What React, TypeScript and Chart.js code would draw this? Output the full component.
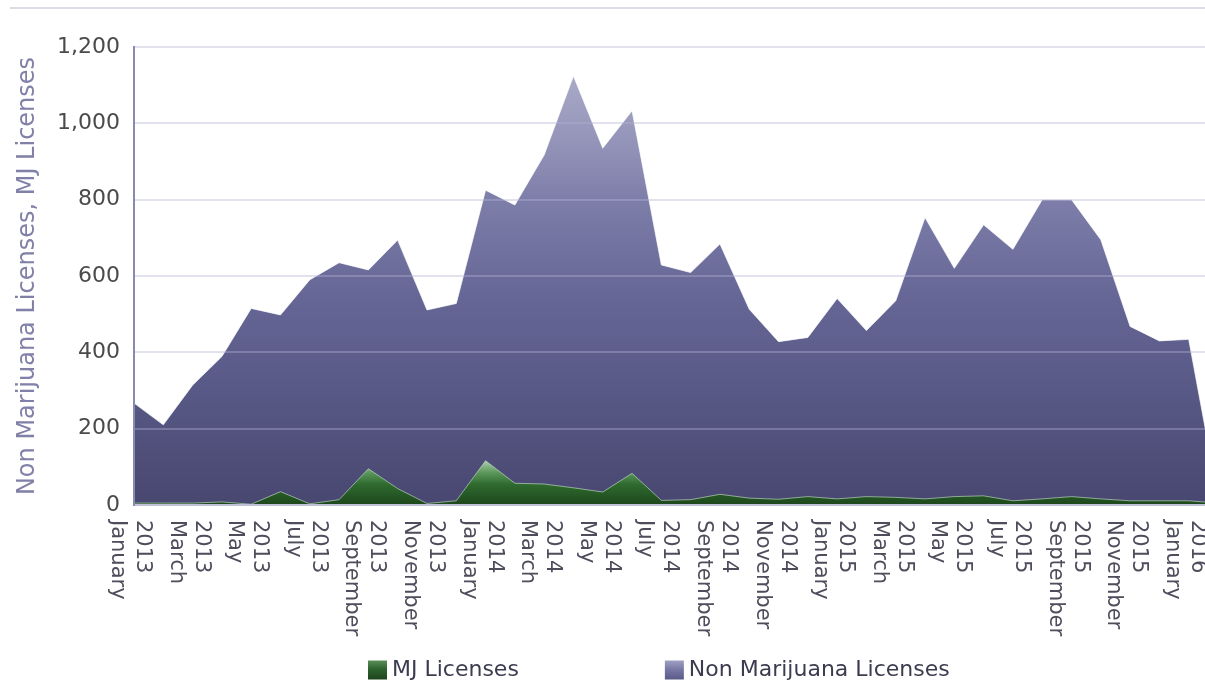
import React, { useEffect, useRef } from "react";
import { Chart, registerables } from "chart.js";

Chart.register(...registerables);

const categories = [
  "January 2013", "February 2013", "March 2013", "April 2013", "May 2013", "June 2013",
  "July 2013", "August 2013", "September 2013", "October 2013", "November 2013", "December 2013",
  "January 2014", "February 2014", "March 2014", "April 2014", "May 2014", "June 2014",
  "July 2014", "August 2014", "September 2014", "October 2014", "November 2014", "December 2014",
  "January 2015", "February 2015", "March 2015", "April 2015", "May 2015", "June 2015",
  "July 2015", "August 2015", "September 2015", "October 2015", "November 2015", "December 2015",
  "January 2016", "February 2016",
];

const mjLicenses = [
  5, 5, 5, 8, 2, 35, 3, 14, 95, 43, 4, 11,
  116, 57, 55, 45, 34, 83, 12, 14, 28, 18, 15, 22,
  16, 22, 20, 16, 22, 24, 11, 16, 22, 16, 11, 11,
  11, 5,
];

const nonMjLicenses = [
  267, 210, 314, 389, 515, 498, 590, 635, 616, 694, 511, 528,
  825, 786, 917, 1124, 935, 1033, 629, 609, 684, 513, 428, 439,
  541, 457, 535, 753, 620, 734, 670, 800, 800, 695, 468, 430,
  434, 20,
];

const yMin = 0;
const yMax = 1200;
const yStep = 200;
const labelEvery = 2;

const seriesNames = ["MJ Licenses", "Non Marijuana Licenses"];
const yTitle = "Non Marijuana Licenses, MJ Licenses";

const FONT = "'DejaVu Sans'";

function purpleGradient(ctx: CanvasRenderingContext2D, top: number, bottom: number) {
  const g = ctx.createLinearGradient(0, top, 0, bottom);
  g.addColorStop(0, "#b4b4d0");
  g.addColorStop(0.07, "#a8a8c6");
  g.addColorStop(0.22, "#9292b8");
  g.addColorStop(0.33, "#7e7eaa");
  g.addColorStop(0.55, "#666696");
  g.addColorStop(0.73, "#5a5a88");
  g.addColorStop(1, "#474770");
  return g;
}

function greenGradient(ctx: CanvasRenderingContext2D, top: number, bottom: number) {
  const g = ctx.createLinearGradient(0, top, 0, bottom);
  g.addColorStop(0, "#b4d6b4");
  g.addColorStop(0.3, "#5a965a");
  g.addColorStop(0.55, "#2f6a2f");
  g.addColorStop(1, "#1c461c");
  return g;
}

function legendGradient(ctx: CanvasRenderingContext2D, i: number, top: number, bottom: number) {
  const g = ctx.createLinearGradient(0, top, 0, bottom);
  if (i === 0) {
    g.addColorStop(0, "#5a8f5a");
    g.addColorStop(0.45, "#2e622e");
    g.addColorStop(1, "#1c461c");
  } else {
    g.addColorStop(0, "#a0a0c4");
    g.addColorStop(0.5, "#7676a4");
    g.addColorStop(1, "#5a5a88");
  }
  return g;
}

const xLabelPlugin = {
  id: "rotatedXLabels",
  afterDraw(chart: any) {
    const xs = chart.scales.x;
    const ctx: CanvasRenderingContext2D = chart.ctx;
    const labels: string[] = chart.data.labels;
    ctx.save();
    ctx.font = `21px ${FONT}`;
    ctx.fillStyle = "#4d4d5c";
    ctx.textBaseline = "middle";
    ctx.textAlign = "left";
    labels.forEach((lab, i) => {
      if (i % labelEvery !== 0) return;
      const parts = lab.split(" ");
      const x = xs.getPixelForValue(i) - 4;
      ctx.save();
      ctx.translate(x, xs.top + 15);
      ctx.rotate(Math.PI / 2);
      ctx.fillText(parts[0], 0, 12.5);
      ctx.fillText(parts[1], 0, -12.5);
      ctx.restore();
    });
    ctx.restore();
  },
};

const legendPlugin = {
  id: "customLegend",
  afterDraw(chart: any) {
    const ctx: CanvasRenderingContext2D = chart.ctx;
    const datasets = chart.data.datasets;
    ctx.save();
    ctx.font = `22px ${FONT}`;
    ctx.textBaseline = "middle";
    ctx.textAlign = "left";
    let x = 368;
    const yc = 670;
    const box = 19;
    datasets.forEach((ds: any, i: number) => {
      ctx.fillStyle = legendGradient(ctx, i, yc - box / 2, yc + box / 2);
      ctx.fillRect(x, yc - box / 2, box, box);
      ctx.fillStyle = "#3c3c50";
      const tx = x + box + 5;
      ctx.fillText(ds.label, tx, yc);
      const w = ctx.measureText(ds.label).width;
      x = tx + w + 146;
    });
    ctx.restore();
  },
};

export default function App() {
  const ref = useRef<HTMLCanvasElement>(null);

  useEffect(() => {
    const canvas = ref.current;
    if (!canvas) return;
    const chart = new Chart(canvas, {
      type: "line",
      data: {
        labels: categories,
        datasets: [
          {
            label: seriesNames[0],
            data: mjLicenses,
            fill: "origin",
            backgroundColor: (c: any) => {
              const ch = c.chart;
              const area = ch.chartArea;
              if (!area) return "#2f6a2f";
              const top = ch.scales.y.getPixelForValue(120);
              return greenGradient(ch.ctx, top, area.bottom);
            },
            borderColor: "rgba(205,232,205,0.6)",
            borderWidth: 1,
            pointRadius: 0,
            tension: 0,
          },
          {
            label: seriesNames[1],
            data: nonMjLicenses,
            fill: "origin",
            backgroundColor: (c: any) => {
              const ch = c.chart;
              const area = ch.chartArea;
              if (!area) return "#5a5a88";
              return purpleGradient(ch.ctx, area.top, area.bottom);
            },
            borderColor: "rgba(255,255,255,0.7)",
            borderWidth: 1,
            pointRadius: 0,
            tension: 0,
          },
        ],
      },
      options: {
        responsive: false,
        animation: false,
        devicePixelRatio: 1,
        layout: { padding: { left: 9, top: 47, right: 2, bottom: 0 } },
        plugins: {
          legend: { display: false },
          tooltip: { enabled: false },
        },
        scales: {
          x: {
            type: "category",
            offset: false,
            grid: { display: false, drawTicks: false },
            border: { color: "#c8c8dc", width: 2, z: 1 },
            ticks: { display: false },
            afterFit: (s: any) => {
              s.height = 179;
            },
          },
          y: {
            min: yMin,
            max: yMax,
            ticks: {
              stepSize: yStep,
              padding: 14,
              color: "#4a4a4a",
              font: { family: "DejaVu Sans", size: 22 },
              callback: (v: any) => Number(v).toLocaleString("en-US"),
            },
            grid: { color: "rgba(178,178,212,0.38)", lineWidth: 2, drawTicks: false, z: 1 },
            border: { color: "#8a8ab0", width: 2, z: 1 },
            title: {
              display: true,
              text: yTitle,
              color: "#8080a8",
              font: { family: "DejaVu Sans", size: 24 },
              padding: { top: 4, bottom: 4 },
            },
            afterFit: (s: any) => {
              s.width = 125;
            },
          },
        },
      } as any,
      plugins: [xLabelPlugin, legendPlugin],
    });
    return () => chart.destroy();
  }, []);

  return (
    <div
      style={{
        position: "fixed",
        left: 0,
        top: 0,
        width: "100vw",
        height: "100vh",
        overflow: "hidden",
        background: "#ffffff",
      }}
    >
      <canvas ref={ref} width={1220} height={684} style={{ position: "absolute", left: 0, top: 0 }} />
      <div
        style={{
          position: "absolute",
          left: 10,
          top: 7,
          width: 1200,
          height: 2,
          background: "#dcdce8",
        }}
      />
    </div>
  );
}
